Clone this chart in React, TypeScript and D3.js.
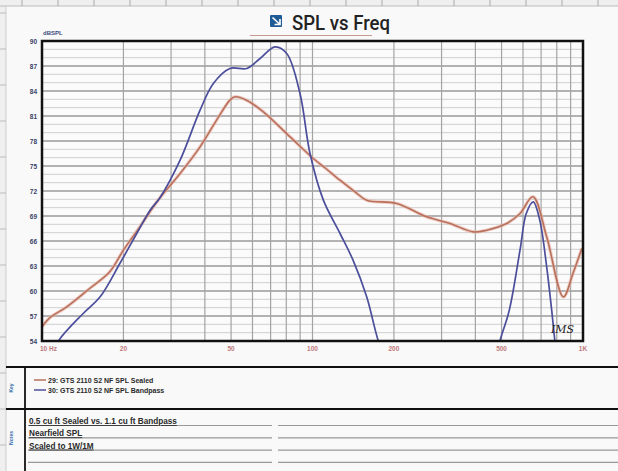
import React, {useRef, useEffect} from 'react'
import * as d3 from 'd3'

// SPL readings (Hz, dB)
const sealedFreq = [10, 10.7, 12.35, 15.0, 17.8, 20, 23, 25.8, 27.3, 32.4, 38.4, 44.2, 49.5, 51.7, 57, 65.8, 82.6, 100.7, 112, 126.4, 143.6, 158.6, 204.8, 264.4, 322.4, 393, 440.6, 522, 585, 653, 734, 846, 920, 990]
const sealedDb = [55.7, 56.8, 58.1, 60.3, 62.3, 64.9, 67.7, 70.1, 71.2, 74.1, 77.3, 80.5, 82.9, 83.3, 82.9, 81.5, 78.5, 75.9, 74.7, 73.3, 71.9, 70.9, 70.5, 68.9, 68.1, 67.1, 67.3, 68.1, 69.3, 71.3, 66.5, 59.3, 62.2, 65.1]

const bandFreq = [10, 11.5, 14.2, 16.4, 19.4, 22.4, 25.1, 27.3, 32.4, 38.4, 43, 49.5, 57.2, 64, 72.7, 80.3, 89.9, 97.9, 109.7, 126.4, 141.2, 158.6, 175.1, 190, 470, 493, 534, 585, 617, 655, 692, 734, 766, 787, 820]
const bandDb = [50, 54, 57.3, 59.3, 63.3, 66.9, 69.7, 71.2, 75.7, 81.7, 84.9, 86.7, 86.7, 87.9, 89.3, 88.5, 83.7, 76.5, 70.9, 66.9, 63.7, 59.3, 54, 51, 51, 54, 57.7, 64.9, 69.3, 70.7, 68.5, 62.9, 57.7, 54, 49]

const yTicks = [90, 87, 84, 81, 78, 75, 72, 69, 66, 63, 60, 57, 54]
const xTicks = [10, 20, 50, 100, 200, 500, 1000]
const xTickLabels = ['10 Hz', '20', '50', '100', '200', '500', '1K']

const legendNames = ['29: GTS 2110 S2 NF SPL Sealed', '30: GTS 2110 S2 NF SPL Bandpass']
const noteLines = ['0.5 cu ft Sealed vs. 1.1 cu ft Bandpass', 'Nearfield SPL', 'Scaled to 1W/1M', '']

const App = () => {
	const ref = useRef<SVGSVGElement>(null)

	const layout = {width: 618, height: 471, left: 42, right: 583, top: 41, bottom: 341}
	const sealedColor = '#b9705c'
	const bandColor = '#4b4e9b'

	useEffect(() => {
		const svg = d3.select(ref.current)
		svg.selectAll('*').remove()

		// page + ruler strip
		svg.append('rect').attr('width', layout.width).attr('height', layout.height).attr('fill', '#efefef')
		svg.append('rect').attr('x', 6).attr('y', 6).attr('width', layout.width - 6).attr('height', layout.height - 6).attr('fill', '#f9f9f9')
		svg.append('line').attr('x1', 0).attr('x2', layout.width).attr('y1', 6).attr('y2', 6).attr('stroke', '#bbb')
		svg.append('line').attr('x1', 6).attr('x2', 6).attr('y1', 6).attr('y2', layout.height).attr('stroke', '#ccc')
		d3.range(22, layout.width, 36).forEach(x => {
			svg.append('line').attr('x1', x).attr('x2', x).attr('y1', 0).attr('y2', 6).attr('stroke', '#aaa')
		})
		d3.range(13, layout.height, 36).forEach(y => {
			svg.append('line').attr('x1', 0).attr('x2', 6).attr('y1', y).attr('y2', y).attr('stroke', '#bbb')
		})

		const x = d3.scaleLog().domain([10, 1000]).range([layout.left, layout.right])
		const y = d3.scaleLinear().domain([54, 90]).range([layout.bottom, layout.top])

		const g = svg.append('g')
		g.append('rect').attr('x', layout.left).attr('y', layout.top)
			.attr('width', layout.right - layout.left).attr('height', layout.bottom - layout.top).attr('fill', '#fbfbfb')

		// horizontal grid, 1 dB steps, every 3 dB darker
		d3.range(55, 90).forEach(v => {
			g.append('line').attr('x1', layout.left).attr('x2', layout.right)
				.attr('y1', y(v)).attr('y2', y(v))
				.attr('stroke', v % 3 === 0 ? '#9a9a9a' : '#cfcfcf').attr('stroke-width', v % 3 === 0 ? 1.3 : 1)
		})
		// vertical grid
		const vgrid = [20, 30, 40, 50, 60, 70, 80, 90, 100, 200, 300, 400, 500, 600, 700, 800, 900]
		vgrid.forEach(f => {
			g.append('line').attr('x1', x(f)).attr('x2', x(f)).attr('y1', layout.top).attr('y2', layout.bottom)
				.attr('stroke', '#a4a4a4').attr('stroke-width', 1.2)
		})

		svg.append('clipPath').attr('id', 'plotclip').append('rect')
			.attr('x', layout.left).attr('y', layout.top)
			.attr('width', layout.right - layout.left).attr('height', layout.bottom - layout.top)

		const line = d3.line<[number, number]>().curve(d3.curveCatmullRom.alpha(0.5))

		const sealed = sealedFreq.map((f, i) => [x(f), y(sealedDb[i])] as [number, number])
		const band = bandFreq.map((f, i) => [x(f), y(bandDb[i])] as [number, number])

		const curves = g.append('g').attr('clip-path', 'url(#plotclip)')
		curves.append('path').attr('d', line(sealed)).attr('fill', 'none')
			.attr('stroke', '#e8b4a6').attr('stroke-width', 3.5).attr('opacity', 0.6)
		curves.append('path').attr('d', line(sealed)).attr('fill', 'none')
			.attr('stroke', sealedColor).attr('stroke-width', 1.6)
		curves.append('path').attr('d', line(band)).attr('fill', 'none')
			.attr('stroke', bandColor).attr('stroke-width', 1.7)

		// frame
		g.append('rect').attr('x', layout.left).attr('y', layout.top)
			.attr('width', layout.right - layout.left).attr('height', layout.bottom - layout.top)
			.attr('fill', 'none').attr('stroke', '#111').attr('stroke-width', 2.5)

		// y ticks
		g.selectAll('.ytick').data(yTicks).join('text').attr('class', 'ytick')
			.attr('x', layout.left - 5).attr('y', d => y(d) + 2.5)
			.attr('text-anchor', 'end').attr('font-size', 6.5).attr('font-weight', 'bold')
			.attr('font-family', 'Liberation Sans, Arial').attr('fill', '#3a3f66')
			.text(d => d)
		g.append('text').attr('x', layout.left + 1).attr('y', 35).text('dBSPL')
			.attr('font-size', 6).attr('font-weight', 'bold').attr('font-family', 'Liberation Sans, Arial').attr('fill', '#3d4a80')

		// x ticks
		g.selectAll('.xtick').data(xTicks).join('text').attr('class', 'xtick')
			.attr('x', (d, i) => i === 0 ? x(d) - 2 : x(d)).attr('y', layout.bottom + 10)
			.attr('text-anchor', (d, i) => i === 0 ? 'start' : 'middle')
			.attr('font-size', 6.5).attr('font-weight', 'bold')
			.attr('font-family', 'Liberation Sans, Arial').attr('fill', '#c0787a')
			.text((d, i) => xTickLabels[i])

		g.append('text').attr('x', 551).attr('y', 333).text('IMS')
			.attr('font-size', 11).attr('font-style', 'italic').attr('font-family', 'DejaVu Serif')
			.attr('fill', '#222')

		// title
		const tg = svg.append('g')
		tg.append('rect').attr('x', 270).attr('y', 15).attr('width', 12).attr('height', 12).attr('rx', 1).attr('fill', '#1f5b95')
		tg.append('path').attr('d', 'M272.5,17.5 L280,24.5 M280,19 L280,24.5 L274.5,24.5').attr('stroke', '#f9f9f9').attr('stroke-width', 1.7).attr('fill', 'none')
		tg.append('text').attr('x', 292).attr('y', 30).text('SPL vs Freq')
			.attr('font-size', 20).attr('font-weight', 500).attr('font-family', 'Roboto')
			.attr('textLength', 98).attr('lengthAdjust', 'spacingAndGlyphs').attr('fill', '#222')
		tg.append('line').attr('x1', 250).attr('x2', 372).attr('y1', 35.5).attr('y2', 35.5)
			.attr('stroke', '#c79a92').attr('stroke-width', 1)

		// key panel
		const panels = svg.append('g')
		;[367, 409].forEach(yy => {
			panels.append('line').attr('x1', 6).attr('x2', layout.width).attr('y1', yy).attr('y2', yy)
				.attr('stroke', '#111').attr('stroke-width', 2.2)
		})
		panels.append('line').attr('x1', 25).attr('x2', 25).attr('y1', 367).attr('y2', layout.height)
			.attr('stroke', '#111').attr('stroke-width', 1.8)

		const sideLabel = (label: string, cy: number) => {
			panels.append('text').attr('transform', `translate(13,${cy}) rotate(-90)`)
				.attr('text-anchor', 'middle').attr('font-size', 5).attr('font-weight', 'bold')
				.attr('font-family', 'Liberation Sans, Arial').attr('fill', '#2f6aa8').text(label)
		}
		sideLabel('Key', 388)
		sideLabel('Notes', 438)

		legendNames.forEach((name, i) => {
			const ly = 382.5 + i * 10
			panels.append('line').attr('x1', 34).attr('x2', 46).attr('y1', ly - 2.5).attr('y2', ly - 2.5)
				.attr('stroke', i === 0 ? sealedColor : bandColor).attr('stroke-width', 1.5)
			panels.append('text').attr('x', 48).attr('y', ly).text(name)
				.attr('font-size', 7).attr('font-weight', 'bold').attr('font-family', 'Liberation Sans, Arial')
				.attr('fill', '#2a2a2a')
		})

		// notes
		noteLines.forEach((note, i) => {
			const ny = 425.5 + i * 12.3
			panels.append('line').attr('x1', 28).attr('x2', 272).attr('y1', ny).attr('y2', ny)
				.attr('stroke', '#999').attr('stroke-width', 1.2)
			panels.append('line').attr('x1', 278).attr('x2', layout.width).attr('y1', ny).attr('y2', ny)
				.attr('stroke', '#999').attr('stroke-width', 1.2)
			panels.append('text').attr('x', 29).attr('y', ny - 1.5).text(note)
				.attr('font-size', 8.2).attr('font-weight', 'bold').attr('font-family', 'Liberation Sans, Arial')
				.attr('fill', '#2a2a2a').attr('text-decoration', 'underline')
		})
	}, [])

	return (
		<svg ref={ref} width={layout.width} height={layout.height}
			style={{position: 'absolute', left: 0, top: 0, display: 'block'}} />
	)
}

export default App
